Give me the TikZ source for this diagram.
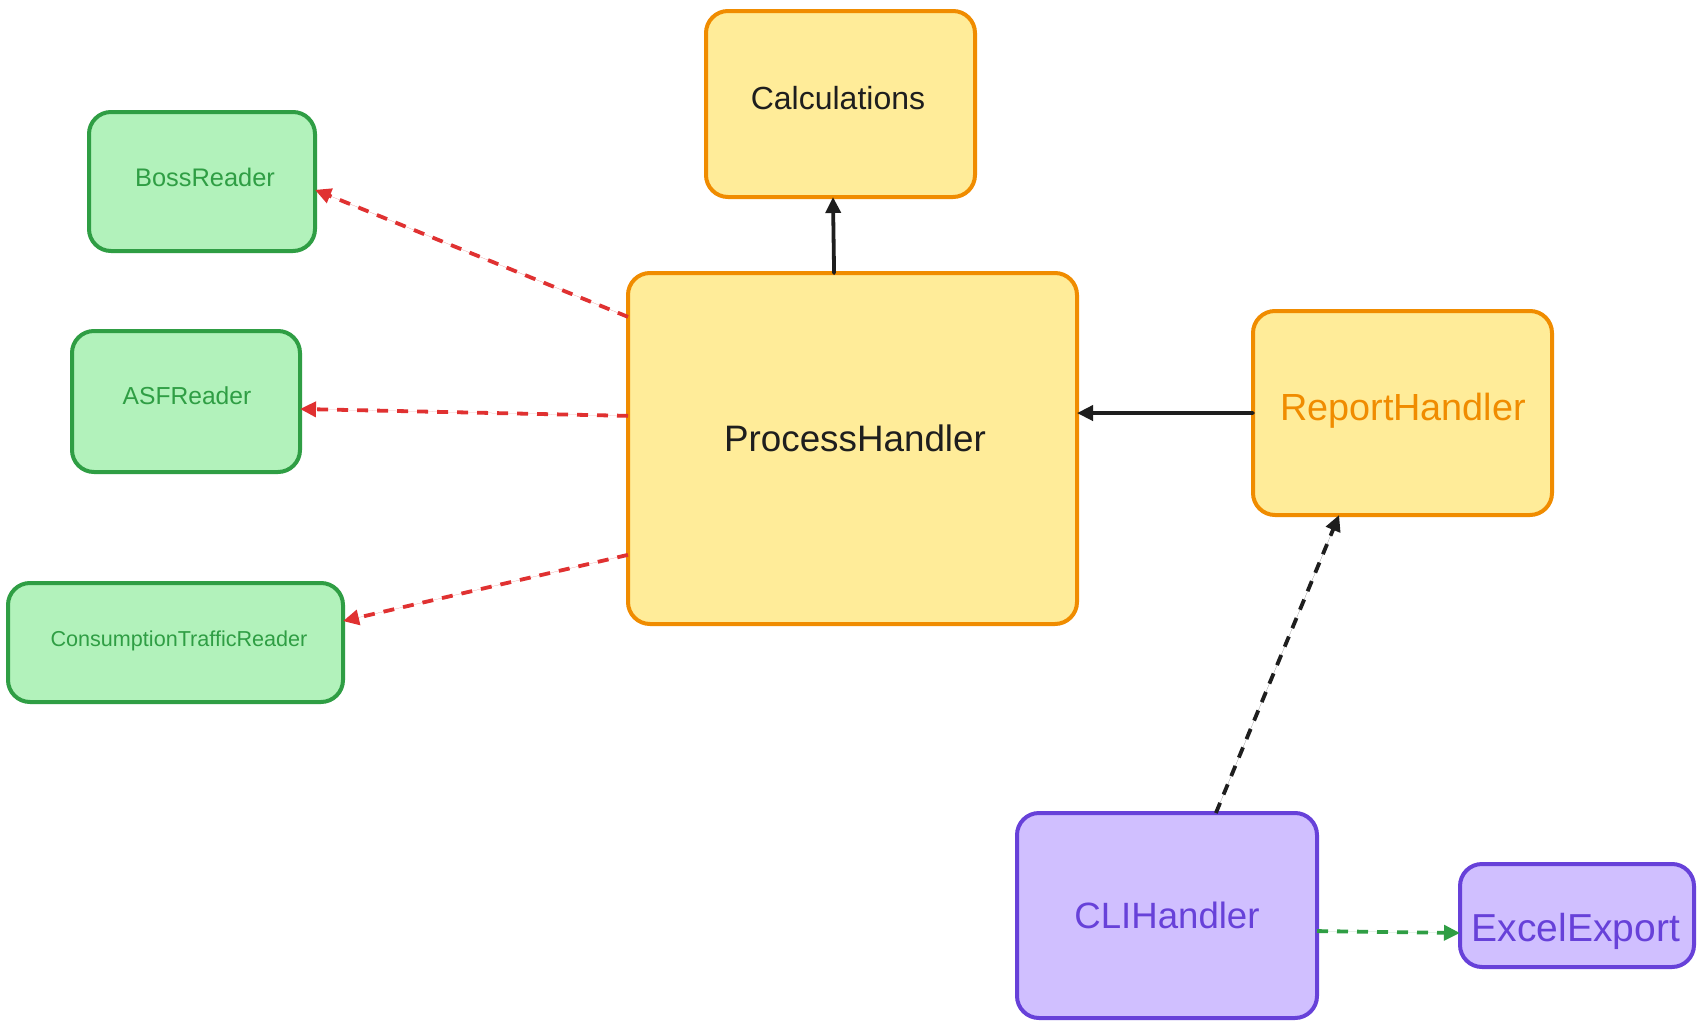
\documentclass[tikz,border=0pt]{standalone}
\usepackage{fontspec}
\setmainfont{Liberation Sans}
\usetikzlibrary{arrows.meta,calc}
\definecolor{gfill}{HTML}{B2F2BB}
\definecolor{gline}{HTML}{2F9E44}
\definecolor{yfill}{HTML}{FFEC99}
\definecolor{yline}{HTML}{F08C00}
\definecolor{pfill}{HTML}{D0BFFF}
\definecolor{pline}{HTML}{6741D9}
\definecolor{redc}{HTML}{E03131}
\definecolor{dark}{HTML}{1E1E1E}
\tikzset{
  box/.style={rectangle, rounded corners=11pt, line width=2pt, inner sep=0pt, outer sep=0pt},
  gbox/.style={box, draw=gline, fill=gfill},
  ybox/.style={box, draw=yline, fill=yfill},
  pbox/.style={box, draw=pline, fill=pfill},
  lbl/.style={inner sep=0pt, anchor=center},
  conn/.style={line width=1.9pt, line cap=round, -{Triangle[length=8pt,width=7.5pt]}},
  dashconn/.style={conn, line cap=butt, dash pattern=on 5.5pt off 4.5pt},
}
\newcommand{\fs}[1]{\fontsize{#1pt}{#1pt}\selectfont}
\begin{document}
\begin{tikzpicture}[x=0.5pt,y=-0.5pt]
\useasboundingbox (0,0) rectangle (1704,1028);
\fill[white] (0,0) rectangle (1704,1028);
% boxes
\node[ybox, minimum width={269*0.5pt}, minimum height={186*0.5pt}] (calc) at (840.5,104) {};
\node[gbox, minimum width={226*0.5pt}, minimum height={139*0.5pt}] (boss) at (202,181.5) {};
\node[gbox, minimum width={228*0.5pt}, minimum height={141*0.5pt}] (asf) at (186,401.5) {};
\node[gbox, minimum width={335*0.5pt}, minimum height={119*0.5pt}] (cons) at (175.5,642.5) {};
\node[ybox, minimum width={449*0.5pt}, minimum height={351*0.5pt}] (proc) at (852.5,448.5) {};
\node[ybox, minimum width={299*0.5pt}, minimum height={204*0.5pt}] (rep) at (1402.5,413) {};
\node[pbox, minimum width={300*0.5pt}, minimum height={205*0.5pt}] (cli) at (1167,915.5) {};
\node[pbox, minimum width={234*0.5pt}, minimum height={103*0.5pt}] (excel) at (1577,915.5) {};
% labels
\node[lbl, text=dark] (calct) at (838,98) {\fs{16}Calculations};
\node[lbl, text=gline] (bosst) at (205,177) {\fs{12.7}BossReader};
\node[lbl, text=gline] (asft) at (187,396) {\fs{12.3}ASFReader};
\node[lbl, text=gline] (const) at (179,641) {\fs{10.8}ConsumptionTrafficReader};
\node[lbl, text=dark] (proct) at (855,438) {\fs{18.4}ProcessHandler};
\node[lbl, text=yline] (rept) at (1403,411) {\fs{18.9}ReportHandler};
\node[lbl, text=pline] (clit) at (1167,915) {\fs{18.3}CLIHandler};
\node[lbl, text=pline] (excelt) at (1576,931) {\fs{19.5}ExcelExport};
% connectors
\draw[dashconn, draw=redc, fill=redc] ($(proc.north west)!0.125!(proc.south west)$) -- ($(boss.north east)!0.56!(boss.south east)$);
\draw[dashconn, draw=redc, fill=redc] ($(proc.north west)!0.407!(proc.south west)$) -- ($(asf.north east)!0.553!(asf.south east)$);
\draw[dashconn, draw=redc, fill=redc] ($(proc.north west)!0.803!(proc.south west)$) -- ($(cons.north east)!0.32!(cons.south east)$);
\draw[conn, draw=dark, fill=dark] ($(proc.north west)!0.459!(proc.north east)$) -- ($(calc.south west)!0.472!(calc.south east)$);
\draw[conn, draw=dark, fill=dark] (rep.west) -- ($(proc.north east)!0.399!(proc.south east)$);
\draw[dashconn, draw=dark, fill=dark] ($(cli.north west)!0.663!(cli.north east)$) -- ($(rep.south west)!0.288!(rep.south east)$);
\draw[dashconn, draw=gline, fill=gline] ($(cli.north east)!0.576!(cli.south east)$) -- ($(excel.north west)!0.67!(excel.south west)$);
\end{tikzpicture}
\end{document}
